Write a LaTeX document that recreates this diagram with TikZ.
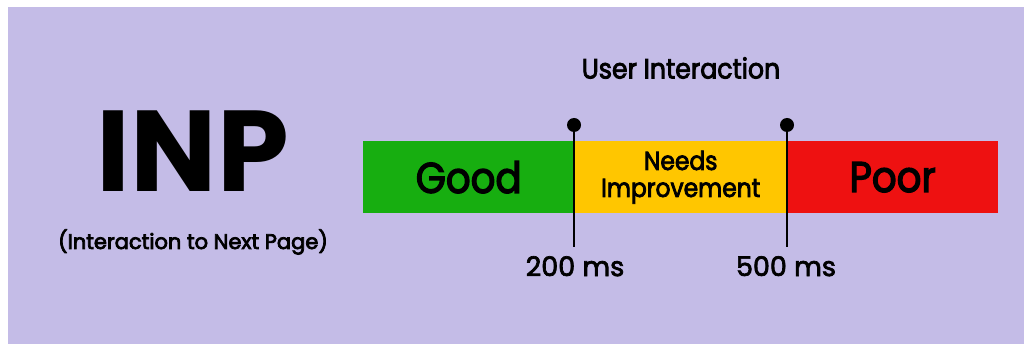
\documentclass[tikz,border=0pt]{standalone}
\usepackage{fontspec}
\setmainfont{Poppins}
\newfontfamily\barfont{Poppins}[FakeStretch=0.9, FakeBold=3]
\newfontfamily\medfont{Poppins}[FakeBold=2.6]
\newfontfamily\semifont{Poppins}[FakeBold=3.6]
\definecolor{lav}{HTML}{C4BCE7}
\definecolor{goodc}{HTML}{17AE10}
\definecolor{needc}{HTML}{FFC600}
\definecolor{poorc}{HTML}{EE1111}
\tikzset{
  seg/.style={draw=none, inner sep=0pt, minimum height=72pt, anchor=north west, text=black},
  marker/.style={line width=2.6pt, black},
  pin/.style={circle, fill=black, inner sep=0pt, minimum size=14pt},
  lbl/.style={inner sep=0pt, text=black}
}
\begin{document}
\begin{tikzpicture}[x=1pt,y=-1pt]
\useasboundingbox (0,0) rectangle (1024,344);
\fill[white] (0,0) rectangle (1024,344);
\fill[lav] (8,7) rectangle (1024,344);
% title
\node[lbl, font=\bfseries\fontsize{115}{115}\selectfont] (inp) at (193,151) {INP};
\node[lbl, font=\semifont\fontsize{21}{21}\selectfont] (sub) at (193,242) {(Interaction to Next Page)};
% bar
\node[seg, fill=goodc, minimum width=211pt] (good) at (363,141) {};
\node[seg, fill=needc, minimum width=213pt] (need) at (574,141) {};
\node[seg, fill=poorc, minimum width=211pt] (poor) at (787,141) {};
\node[lbl, font=\barfont\fontsize{43}{43}\selectfont] (goodt) at (good.center) {Good};
\node[lbl, font=\barfont\fontsize{43}{43}\selectfont] (poort) at (poor.center) {Poor};
\node[lbl, align=center, font=\barfont\fontsize{26}{27}\selectfont] (needt) at (need.center) {Needs\\Improvement};
\node[lbl, font=\barfont\fontsize{28}{28}\selectfont] (ui) at (681,68) {User Interaction};
% markers
\node[pin] (p1) at (574,125) {};
\node[pin] (p2) at (787,125) {};
\coordinate (e1) at (574,247);
\coordinate (e2) at (787,247);
\draw[marker] (p1.center) -- (e1);
\draw[marker] (p2.center) -- (e2);
\node[lbl, font=\medfont\fontsize{27}{27}\selectfont, anchor=north] (t1) at (575,256) {200 ms};
\node[lbl, font=\medfont\fontsize{27}{27}\selectfont, anchor=north] (t2) at (786,256) {500 ms};
\end{tikzpicture}
\end{document}
